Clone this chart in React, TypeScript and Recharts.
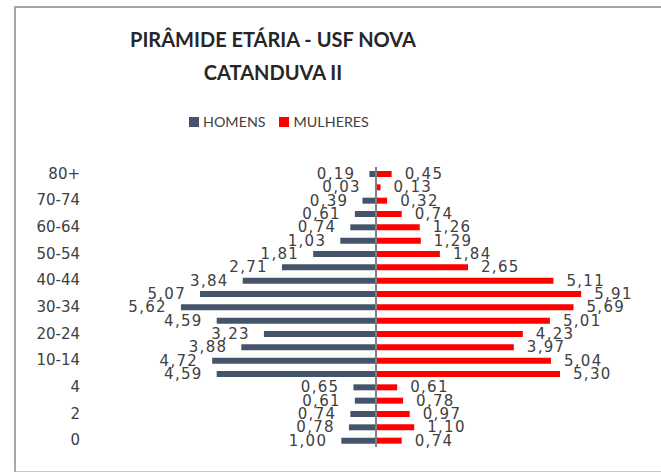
import { Bar, BarChart, LabelList, ReferenceLine, XAxis, YAxis } from "recharts";

const ageGroups = [
  "80+", "75-79", "70-74", "65-69", "60-64", "55-59", "50-54", "45-49", "40-44", "35-39",
  "30-34", "25-29", "20-24", "15-19", "10-14", "5-9", "4", "3", "2", "1", "0",
];
const homens = [
  0.19, 0.03, 0.39, 0.61, 0.74, 1.03, 1.81, 2.71, 3.84, 5.07,
  5.62, 4.59, 3.23, 3.88, 4.72, 4.59, 0.65, 0.61, 0.74, 0.78, 1.0,
];
const mulheres = [
  0.45, 0.13, 0.32, 0.74, 1.26, 1.29, 1.84, 2.65, 5.11, 5.91,
  5.69, 5.01, 4.23, 3.97, 5.04, 5.3, 0.61, 0.78, 0.97, 1.1, 0.74,
];
const shownTicks = ["80+", "70-74", "60-64", "50-54", "40-44", "30-34", "20-24", "10-14", "4", "2", "0"];

const fmt = (v: number) => Math.abs(v).toFixed(2).replace(".", ",");

const labelFont = "'DejaVu Sans', Verdana, sans-serif";

function ValueLabel(props: any) {
  const { x, y, width, height, value } = props;
  const neg = value < 0;
  const endX = neg ? x + Math.min(width, 0) : x + Math.max(width, 0);
  return (
    <text
      x={neg ? endX - 14 : endX + 13}
      y={y + height / 2}
      dy={5}
      textAnchor={neg ? "end" : "start"}
      fontFamily={labelFont}
      fontSize={15}
      letterSpacing={1.3}
      fill="#404040"
    >
      {fmt(value)}
    </text>
  );
}

export default function App() {
  const data = ageGroups.map((age, i) => ({
    age,
    homens: -homens[i],
    mulheres: mulheres[i],
  }));

  return (
    <div style={{ position: "absolute", left: 0, top: 0, width: 661, height: 472, background: "#fff", overflow: "hidden" }}>
      <div
        style={{
          position: "absolute",
          left: 14,
          top: 6,
          width: 700,
          height: 463,
          borderLeft: "2px solid #a6a6a6",
          borderTop: "2px solid #a6a6a6",
          borderBottom: "2px solid #c8c8c8",
        }}
      />
      <div
        style={{
          position: "absolute",
          left: 0,
          width: 546,
          top: 23,
          textAlign: "center",
          fontFamily: "Lato, 'Open Sans', sans-serif",
          fontWeight: 700,
          fontSize: 20,
          lineHeight: "33px",
          color: "#262626",
        }}
      >
        PIRÂMIDE ETÁRIA - USF NOVA
        <br />
        CATANDUVA II
      </div>
      <div
        style={{
          position: "absolute",
          left: 189,
          top: 113,
          display: "flex",
          alignItems: "center",
          fontFamily: "Lato, 'Open Sans', sans-serif",
          fontSize: 14.3,
          color: "#404040",
        }}
      >
        <span style={{ width: 10, height: 10, background: "#44546A", display: "inline-block", marginRight: 4 }} />
        <span>HOMENS</span>
        <span style={{ width: 10, height: 10, background: "#FF0000", display: "inline-block", marginLeft: 13, marginRight: 5 }} />
        <span>MULHERES</span>
      </div>
      <div style={{ position: "absolute", left: 0, top: 0 }}>
        <BarChart
          width={661}
          height={472}
          data={data}
          layout="vertical"
          stackOffset="sign"
          barSize={6}
          margin={{ top: 167, bottom: 25, left: 28, right: 42 }}
        >
          <XAxis type="number" domain={[-8.24, 7]} allowDataOverflow hide />
          <YAxis
            type="category"
            dataKey="age"
            width={62}
            axisLine={false}
            tickLine={false}
            interval={0}
            tickMargin={2}
            tick={(p: any) =>
              shownTicks.includes(p.payload.value) ? (
                <text
                  x={p.x - 2}
                  y={p.y}
                  dy={5}
                  textAnchor="end"
                  fontFamily={labelFont}
                  fontSize={15}
                  fill="#404040"
                >
                  {p.payload.value}
                </text>
              ) : (
                <g />
              )
            }
          />
          <Bar dataKey="homens" stackId="a" fill="#44546A" isAnimationActive={false}>
            <LabelList dataKey="homens" content={<ValueLabel />} />
          </Bar>
          <Bar dataKey="mulheres" stackId="a" fill="#FF0000" isAnimationActive={false}>
            <LabelList dataKey="mulheres" content={<ValueLabel />} />
          </Bar>
          <ReferenceLine x={0} stroke="#808080" strokeWidth={2} />
        </BarChart>
      </div>
    </div>
  );
}
